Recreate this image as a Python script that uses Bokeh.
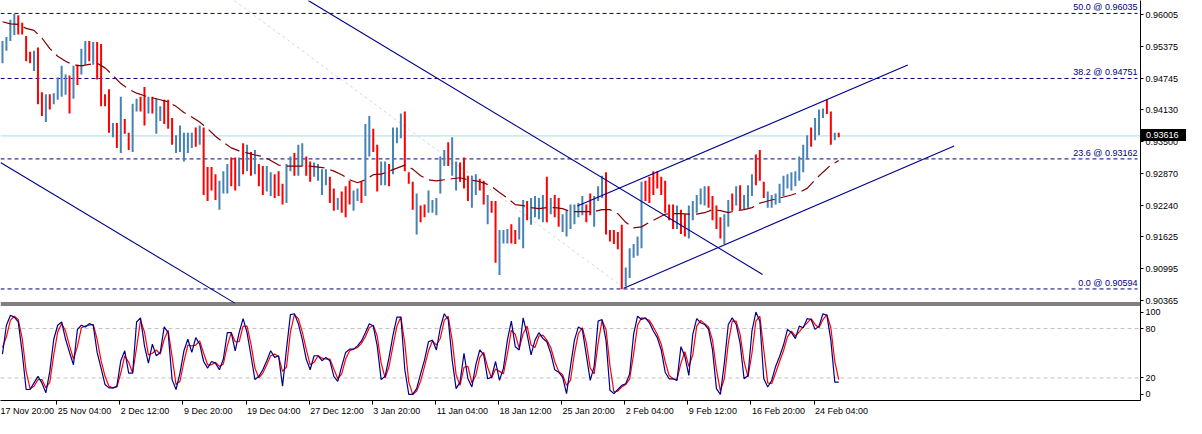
from bokeh.plotting import figure
from bokeh.models import Range1d, FixedTicker, CustomJSTickFormatter, Label, Div
from bokeh.layouts import column
from bokeh.embed import file_html
from bokeh.resources import INLINE

# ---------------- data (H4 bars, one entry per pair of bars) ----------------
HIGH = [0.9549,0.9557,0.9591,0.9603,0.9600,0.9585,0.9559,0.9528,0.9530,0.9536,
0.9448,0.9444,0.9444,0.9446,0.9477,0.9500,0.9483,0.9481,0.9500,0.9502,
0.9534,0.9549,0.9549,0.9547,0.9547,0.9543,0.9444,0.9454,0.9387,0.9387,
0.9439,0.9395,0.9368,0.9425,0.9435,0.9439,0.9458,0.9439,0.9439,0.9435,
0.9420,0.9433,0.9433,0.9397,0.9363,0.9382,0.9368,0.9368,0.9368,0.9378,
0.9382,0.9378,0.9300,0.9300,0.9286,0.9273,0.9292,0.9306,0.9319,0.9319,
0.9319,0.9347,0.9344,0.9330,0.9334,0.9306,0.9302,0.9302,0.9290,0.9286,
0.9292,0.9267,0.9306,0.9321,0.9328,0.9344,0.9347,0.9321,0.9311,0.9309,
0.9306,0.9296,0.9296,0.9281,0.9258,0.9239,0.9252,0.9262,0.9273,0.9254,
0.9258,0.9271,0.9385,0.9401,0.9376,0.9344,0.9311,0.9311,0.9306,0.9378,
0.9378,0.9406,0.9410,0.9290,0.9271,0.9248,0.9224,0.9226,0.9254,0.9235,
0.9239,0.9321,0.9334,0.9349,0.9359,0.9311,0.9309,0.9319,0.9283,0.9283,
0.9286,0.9277,0.9273,0.9245,0.9233,0.9233,0.9176,0.9176,0.9178,0.9187,
0.9176,0.9201,0.9235,0.9233,0.9239,0.9243,0.9239,0.9245,0.9281,0.9239,
0.9245,0.9239,0.9207,0.9216,0.9226,0.9226,0.9229,0.9243,0.9226,0.9248,
0.9243,0.9262,0.9283,0.9290,0.9176,0.9176,0.9172,0.9186,0.9102,0.9140,
0.9148,0.9163,0.9271,0.9273,0.9281,0.9292,0.9292,0.9281,0.9273,0.9226,
0.9226,0.9224,0.9216,0.9207,0.9224,0.9233,0.9245,0.9258,0.9262,0.9262,
0.9243,0.9224,0.9201,0.9207,0.9235,0.9248,0.9262,0.9264,0.9245,0.9264,
0.9286,0.9325,0.9334,0.9271,0.9252,0.9245,0.9248,0.9267,0.9283,0.9286,
0.9290,0.9292,0.9321,0.9344,0.9363,0.9378,0.9397,0.9414,0.9416,0.9433,
0.9410,0.9368,0.9368]

LOW = [0.9505,0.9530,0.9549,0.9561,0.9562,0.9562,0.9509,0.9505,0.9490,0.9424,
0.9401,0.9389,0.9414,0.9424,0.9433,0.9439,0.9443,0.9406,0.9435,0.9462,
0.9483,0.9502,0.9509,0.9502,0.9473,0.9420,0.9420,0.9368,0.9359,0.9338,
0.9328,0.9366,0.9334,0.9330,0.9410,0.9410,0.9382,0.9406,0.9406,0.9366,
0.9391,0.9385,0.9376,0.9344,0.9328,0.9330,0.9311,0.9328,0.9338,0.9340,
0.9344,0.9245,0.9233,0.9254,0.9235,0.9216,0.9248,0.9248,0.9262,0.9254,
0.9262,0.9286,0.9292,0.9283,0.9286,0.9262,0.9245,0.9252,0.9243,0.9239,
0.9243,0.9226,0.9229,0.9292,0.9283,0.9283,0.9302,0.9283,0.9271,0.9281,
0.9273,0.9245,0.9264,0.9229,0.9214,0.9216,0.9210,0.9201,0.9226,0.9214,
0.9233,0.9229,0.9243,0.9321,0.9330,0.9252,0.9264,0.9264,0.9262,0.9286,
0.9347,0.9357,0.9292,0.9267,0.9216,0.9167,0.9191,0.9201,0.9210,0.9210,
0.9205,0.9248,0.9302,0.9302,0.9283,0.9254,0.9271,0.9258,0.9233,0.9220,
0.9245,0.9254,0.9226,0.9187,0.9210,0.9111,0.9087,0.9149,0.9149,0.9149,
0.9148,0.9157,0.9140,0.9195,0.9186,0.9201,0.9197,0.9191,0.9191,0.9207,
0.9201,0.9182,0.9172,0.9163,0.9178,0.9187,0.9201,0.9205,0.9191,0.9205,
0.9182,0.9233,0.9239,0.9167,0.9153,0.9148,0.9138,0.9059,0.9064,0.9081,
0.9121,0.9125,0.9140,0.9233,0.9229,0.9245,0.9258,0.9245,0.9210,0.9195,
0.9178,0.9178,0.9168,0.9163,0.9159,0.9195,0.9210,0.9226,0.9224,0.9220,
0.9195,0.9178,0.9159,0.9148,0.9182,0.9214,0.9224,0.9216,0.9216,0.9220,
0.9243,0.9264,0.9273,0.9239,0.9220,0.9220,0.9226,0.9229,0.9243,0.9258,
0.9254,0.9262,0.9273,0.9290,0.9315,0.9340,0.9353,0.9363,0.9397,0.9405,
0.9344,0.9353,0.9359]

BAR_UP = [1,1,1,1,0,0,0,0,1,0, 0,1,0,1,1,1,1,0,1,0, 1,1,0,1,0,0,0,0,1,0,
1,0,0,1,1,0,0,1,0,1, 1,0,0,0,1,1,1,1,1,0, 1,0,0,0,0,1,1,1,0,0,
1,0,1,0,1,0,0,1,1,0, 0,0,1,1,0,1,1,0,0,1, 1,1,1,0,0,1,0,0,0,1,
1,0,1,1,0,0,1,1,0,1, 1,1,0,0,0,1,0,0,1,1, 1,1,1,0,1,1,0,0,0,1,
1,0,0,1,0,0,1,1,1,0, 0,1,1,0,1,1,1,1,0,1, 0,0,1,1,1,1,1,1,0,0,
1,1,1,0,0,0,0,0,1,1, 1,1,1,0,0,0,0,0,0,0, 0,1,0,0,1,1,1,1,1,0,
0,0,0,1,1,0,1,0,1,1, 1,0,0,0,1,1,1,1,1,1, 1,1,1,1,1,0,1,1,1,0,
0,1,0]

# moving average (one value every second entry)
MA = [0.9587,0.9583,0.9582,0.9574,0.9570,0.9555,0.9534,0.9519,0.9509,0.9502,
0.9500,0.9503,0.9505,0.9496,0.9481,0.9465,0.9454,0.9446,0.9441,0.9437,
0.9433,0.9429,0.9420,0.9408,0.9399,0.9389,0.9376,0.9361,0.9349,0.9338,
0.9332,0.9328,0.9324,0.9321,0.9313,0.9304,0.9302,0.9302,0.9302,0.9302,
0.9300,0.9298,0.9292,0.9285,0.9275,0.9269,0.9275,0.9285,0.9286,0.9292,
0.9298,0.9304,0.9296,0.9283,0.9275,0.9273,0.9275,0.9277,0.9279,0.9275,
0.9273,0.9269,0.9262,0.9250,0.9239,0.9226,0.9224,0.9220,0.9218,0.9220,
0.9220,0.9218,0.9212,0.9212,0.9212,0.9212,0.9216,0.9216,0.9208,0.9191,
0.9180,0.9182,0.9191,0.9199,0.9207,0.9208,0.9208,0.9207,0.9207,0.9210,
0.9216,0.9214,0.9210,0.9214,0.9216,0.9220,0.9229,0.9233,0.9237,0.9241,
0.9245,0.9250,0.9258,0.9275,0.9290,0.9304,0.9313]

# stochastic %K (blue) and %D (red)
STOCH_K = [49,84,96,94,88,51,6,6,14,22, 14,2,28,67,84,88,67,51,36,79,
84,82,86,84,51,32,12,8,8,10, 41,53,26,26,88,93,59,38,61,47,
51,82,75,18,6,26,53,67,51,69, 61,40,32,40,38,30,43,75,75,53,
75,92,75,47,18,22,30,41,53,45, 47,10,55,97,98,86,67,43,30,47,
47,41,45,41,22,16,34,51,55,55, 59,65,75,86,83,59,18,22,45,72,
94,94,30,0,0,7,25,42,64,66, 54,81,98,91,42,7,15,50,19,9,
36,54,48,19,21,40,17,32,66,89, 58,54,93,73,48,66,75,68,64,50,
30,27,21,1,34,66,82,79,48,17, 34,89,91,66,5,1,6,11,13,25,
73,95,91,93,87,77,69,54,27,19, 19,17,58,46,23,73,92,87,85,79,
54,7,0,38,85,93,85,62,19,23, 77,100,89,19,9,17,34,46,60,79,
75,68,83,81,92,91,79,83,98,96, 66,15,15]

STOCH_D = [57,70,90,95,91,68,28,7,10,18, 18,8,15,48,76,86,77,59,43,58,
81,83,84,85,67,41,22,10,8,9, 26,47,39,26,57,90,76,48,50,54,
49,67,78,46,12,16,40,60,59,60, 65,50,36,36,39,34,37,59,75,64,
64,83,83,61,32,20,26,36,47,49, 46,28,33,76,97,92,76,55,36,39,
47,44,43,43,31,19,25,43,53,55, 57,62,70,81,84,71,38,20,34,59,
83,94,62,15,0,4,16,34,53,65, 60,68,90,95,66,24,11,33,34,14,
23,45,51,33,20,31,28,25,49,78, 73,56,74,83,60,57,71,72,66,57,
40,28,24,11,17,50,74,81,63,32, 25,62,90,79,35,3,4,9,12,19,
49,84,93,92,90,82,73,61,40,23, 19,18,38,52,34,48,83,90,86,82,
66,30,4,19,62,89,89,73,40,21, 50,89,95,54,14,13,26,40,53,70,
77,71,76,82,87,92,85,81,91,97, 81,40,18]

FIB_NAMES = ["50.0", "38.2", "23.6", "0.0"]
FIB_LEVELS = [0.96035, 0.94751, 0.93162, 0.90594]
LAST_PRICE = 0.93616

PRICE_TICKS = [0.96005, 0.95375, 0.94745, 0.94130, 0.93500, 0.92870, 0.92240, 0.91625, 0.90995, 0.90365]
STOCH_TICKS = [0, 20, 80, 100]
STOCH_LEVELS = [20, 80]

TIME_LABELS = ["17 Nov 20:00", "25 Nov 04:00", "2 Dec 12:00", "9 Dec 20:00", "19 Dec 04:00",
               "27 Dec 12:00", "3 Jan 20:00", "11 Jan 04:00", "18 Jan 12:00", "25 Jan 20:00",
               "2 Feb 04:00", "9 Feb 12:00", "16 Feb 20:00", "24 Feb 04:00"]
TIME_POS = [-2.25, 13.75, 29.75, 45.75, 61.75, 77.75, 93.75, 109.75, 125.75, 141.75,
            157.75, 173.75, 189.75, 205.75]

# trendlines (bar index, price)
TL_X0 = [77.5, -0.5, 145.75, 157.5]
TL_Y0 = [0.9629, 0.93093, 0.9223, 0.90609]
TL_X1 = [192.7, 58.9, 229.5, 241.25]
TL_Y1 = [0.9088, 0.903135, 0.95015, 0.93416]
FAINT_X = [58.75, 157.5]
FAINT_Y = [0.9629, 0.90618]

# ---------------- layout constants ----------------
W, H = 1186, 418
FRAME_W, FRAME_H = 1140, 400
P_TOP = 0.962905
PX = 0.00019035          # price per reference pixel
P_BOT = P_TOP - 415 * PX
S_TOP = 408.7 / 0.854
S_BOT = (408.7 - 415) / 0.854
X0, X1 = -0.5, 288.5
FONT = "Liberation Sans"
FONT_PX = 9


def stoch_to_price(v):
    return P_BOT + (v - S_BOT) / (S_TOP - S_BOT) * (P_TOP - P_BOT)


def price_at_px(y):
    return P_TOP - y / FRAME_H * (P_TOP - P_BOT)


def price_to_px(pr):
    return (P_TOP - pr) / (P_TOP - P_BOT) * FRAME_H


# approximate text width (Arial/Liberation metrics) to left-align the date labels
CHAR_W = {":": 0.278, " ": 0.278, "N": 0.722, "o": 0.556, "v": 0.5, "D": 0.722, "e": 0.556,
          "c": 0.5, "J": 0.5, "a": 0.556, "n": 0.556, "F": 0.611, "b": 0.556}


def text_w(s):
    return sum(CHAR_W.get(ch, 0.556) for ch in s) * FONT_PX


px_per_bar = FRAME_W / (X1 - X0)
label_centers = [pos + (text_w(t) / 2 + 1) / px_per_bar for pos, t in zip(TIME_POS, TIME_LABELS)]

p = figure(width=W, height=H, output_backend="svg", toolbar_location=None,
           x_range=Range1d(X0, X1), y_range=Range1d(P_BOT, P_TOP),
           y_axis_location="right", min_border_left=0, min_border_top=0,
           min_border_right=W - FRAME_W, min_border_bottom=H - FRAME_H)
p.extra_y_ranges = {"stoch": Range1d(S_BOT, S_TOP)}
p.grid.visible = False
p.outline_line_color = None
p.background_fill_color = "white"
p.border_fill_color = "white"

# x axis: tick marks (minor ticks at the labelled bars) + left-aligned labels
p.xaxis.ticker = FixedTicker(ticks=label_centers, minor_ticks=TIME_POS)
p.xaxis.formatter = CustomJSTickFormatter(
    args=dict(centers=label_centers, labels=TIME_LABELS),
    code="""
    let best = 0, d = 1e9;
    for (let i = 0; i < centers.length; i++) {
        const e = Math.abs(centers[i] - tick);
        if (e < d) { d = e; best = i; }
    }
    return labels[best];
    """)
p.xaxis.major_label_text_font = FONT
p.xaxis.major_label_text_font_size = f"{FONT_PX}px"
p.xaxis.major_label_text_color = "black"
p.xaxis.major_label_standoff = 1
p.xaxis.major_tick_out = 3
p.xaxis.major_tick_in = 0
p.xaxis.major_tick_line_color = None
p.xaxis.minor_tick_out = 4
p.xaxis.minor_tick_in = 0
p.xaxis.minor_tick_line_color = "black"
p.xaxis.axis_line_color = "black"

# y axis (right): price ticks + stochastic ticks
ticks = PRICE_TICKS + [stoch_to_price(v) for v in STOCH_TICKS]
p.yaxis.ticker = FixedTicker(ticks=ticks)
p.yaxis.formatter = CustomJSTickFormatter(
    args=dict(pb=P_BOT, pt=P_TOP, sb=S_BOT, st=S_TOP),
    code="""
    if (tick > 0.9025) { return tick.toFixed(5); }
    const v = sb + (tick - pb) / (pt - pb) * (st - sb);
    return String(Math.round(v));
    """)
p.yaxis.major_label_text_font = FONT
p.yaxis.major_label_text_font_size = f"{FONT_PX}px"
p.yaxis.major_label_text_color = "black"
p.yaxis.major_tick_out = 3
p.yaxis.major_tick_in = 0
p.yaxis.major_label_standoff = 2
p.yaxis.minor_tick_line_color = None
p.yaxis.axis_line_color = "black"

# panel separators (crisp 1px bars: black / white / black)
sep_top = [price_at_px(302), price_at_px(304)]
sep_bot = [price_at_px(303), price_at_px(305)]
p.quad(left=X0, right=X1, top=sep_top, bottom=sep_bot, fill_color="black", line_color=None)

# fibonacci levels
p.segment(x0=[X0] * len(FIB_LEVELS), y0=FIB_LEVELS, x1=[287.75] * len(FIB_LEVELS), y1=FIB_LEVELS,
          line_color="#000080", line_width=1, line_dash="4 3")
for name, lvl in zip(FIB_NAMES, FIB_LEVELS):
    p.add_layout(Label(x=287.75, y=lvl, y_offset=1, text=f"{name} @ {lvl:.5f}",
                       text_align="right", text_baseline="bottom", text_color="#000080",
                       text_font=FONT, text_font_size=f"{FONT_PX}px"))

# last price line
p.line([X0, X1], [LAST_PRICE, LAST_PRICE], line_color="#A6DDE3", line_width=1)

# faint fib base line
p.line(FAINT_X, FAINT_Y, line_color="#D4D4F2", line_width=1, line_dash="3 3")

# bars
idx = list(range(len(HIGH)))
colors = ["#4682B4" if u else "#FF0000" for u in BAR_UP]
p.segment(x0=idx, y0=LOW, x1=idx, y1=HIGH, line_color=colors, line_width=2)

# moving average
p.line([2 * k for k in range(len(MA))], MA, line_color="#800000", line_width=1.2, line_dash="16 6")

# trendlines
p.segment(x0=TL_X0, y0=TL_Y0, x1=TL_X1, y1=TL_Y1, line_color="#00008B", line_width=1.1)

# stochastic panel
for lv in STOCH_LEVELS:
    p.line([X0, X1], [lv, lv], y_range_name="stoch", line_color="#C0C0C0", line_width=1, line_dash="4 3")
sidx = list(range(len(STOCH_K)))
p.line(sidx, STOCH_D, y_range_name="stoch", line_color="#FF0000", line_width=1.2)
p.line(sidx, STOCH_K, y_range_name="stoch", line_color="#00008B", line_width=1.2)

# current price box on the price scale
box_top = round(price_to_px(LAST_PRICE) - 6)
price_box = Div(text=f"{LAST_PRICE:.5f}", width=W - FRAME_W - 1, height=12,
                styles={"position": "absolute", "left": f"{FRAME_W + 1}px", "top": f"{box_top}px",
                        "background-color": "black", "color": "white",
                        "font-family": FONT, "font-size": f"{FONT_PX}px", "line-height": "12px",
                        "padding-left": "5px", "box-sizing": "border-box", "z-index": "10",
                        "margin": "0", "overflow": "hidden"})

layout = column(p, price_box, spacing=0)
open("out.html", "w").write(file_html(layout, INLINE))
